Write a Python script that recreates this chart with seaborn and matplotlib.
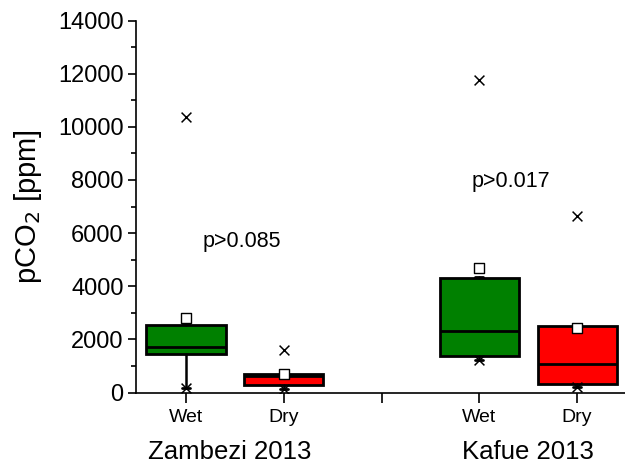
import matplotlib
matplotlib.use("Agg")
import matplotlib.pyplot as plt
import seaborn as sns
import pandas as pd

# ---- data ----
positions = [1, 2, 4, 5]
seasons = ["Wet", "Dry", "Wet", "Dry"]
q1 = [1440, 290, 1380, 310]
median = [1700, 620, 2300, 1090]
q3 = [2550, 710, 4320, 2510]
whis_lo = [180, 150, 1230, 200]
whis_hi = [2600, 750, 4350, 2560]
means = [2810, 680, 4690, 2420]
mins = [180, 150, 1230, 200]
maxs = [10350, 1600, 11750, 6650]
box_colors = ["#008000", "#FF0000", "#008000", "#FF0000"]
groups = ["Zambezi 2013", "Kafue 2013"]
group_pos = [1.45, 4.5]
p_texts = ["p>0.085", "p>0.017"]
p_pos = [(1.17, 5700), (3.92, 7950)]
tick_pos = [1, 2, 3, 4, 5]
tick_labels = ["Wet", "Dry", "", "Wet", "Dry"]

sns.set_theme(style="ticks")
plt.rcParams["font.family"] = ["Liberation Sans", "DejaVu Sans"]
plt.rcParams.update({"text.color": "black", "axes.labelcolor": "black",
                     "xtick.color": "black", "ytick.color": "black",
                     "axes.edgecolor": "black"})

fig = plt.figure(figsize=(6.25, 4.66), dpi=100)
ax = fig.add_axes([136 / 625, 1 - 392.5 / 466, 1 - 136 / 625, (392.5 - 20.5) / 466])

stats = []
for i in range(len(positions)):
    stats.append(dict(q1=q1[i], med=median[i], q3=q3[i],
                      whislo=whis_lo[i], whishi=whis_hi[i], fliers=[]))

bp = ax.bxp(stats, positions=positions, widths=0.81, patch_artist=True,
            showfliers=False, capwidths=0.08,
            boxprops=dict(linewidth=2.0, edgecolor="black"),
            medianprops=dict(color="black", linewidth=2.0),
            whiskerprops=dict(color="black", linewidth=1.8),
            capprops=dict(color="black", linewidth=2.0))
for patch, c in zip(bp["boxes"], box_colors):
    patch.set_facecolor(c)

df_mean = pd.DataFrame({"x": positions, "y": means})
sns.scatterplot(data=df_mean, x="x", y="y", marker="s", s=48,
                facecolor="white", edgecolor="black", linewidth=1.0,
                ax=ax, zorder=5)
df_ext = pd.DataFrame({"x": positions * 2, "y": mins + maxs})
sns.scatterplot(data=df_ext, x="x", y="y", marker="x", s=50,
                color="black", linewidth=1.1, ax=ax, zorder=5)

for t, (px, py) in zip(p_texts, p_pos):
    ax.text(px, py, t, fontsize=15.5, va="center", ha="left", color="black")

ax.set_xlim(0.488, 5.49)
ax.set_ylim(0, 14000)
ax.set_yticks(range(0, 14001, 2000))
ax.set_yticks(range(1000, 14000, 2000), minor=True)
ax.set_xticks(tick_pos)
ax.set_xticklabels(tick_labels)
ax.set_xlabel("")
ax.set_ylabel("pCO$_2$ [ppm]", fontsize=21, labelpad=10)
ax.tick_params(axis="y", which="major", length=6, width=1.2, labelsize=17, pad=3)
ax.tick_params(axis="y", which="minor", length=3.5, width=1.2)
ax.tick_params(axis="x", which="major", length=7, width=1.2, labelsize=14, pad=5)
for s in ["top", "right"]:
    ax.spines[s].set_visible(False)
for s in ["left", "bottom"]:
    ax.spines[s].set_linewidth(1.2)

for g, gx in zip(groups, group_pos):
    ax.text(gx, -0.16, g, transform=ax.get_xaxis_transform(), fontsize=18.5,
            ha="center", va="center", color="black")

fig.savefig("out.png", dpi=100)
